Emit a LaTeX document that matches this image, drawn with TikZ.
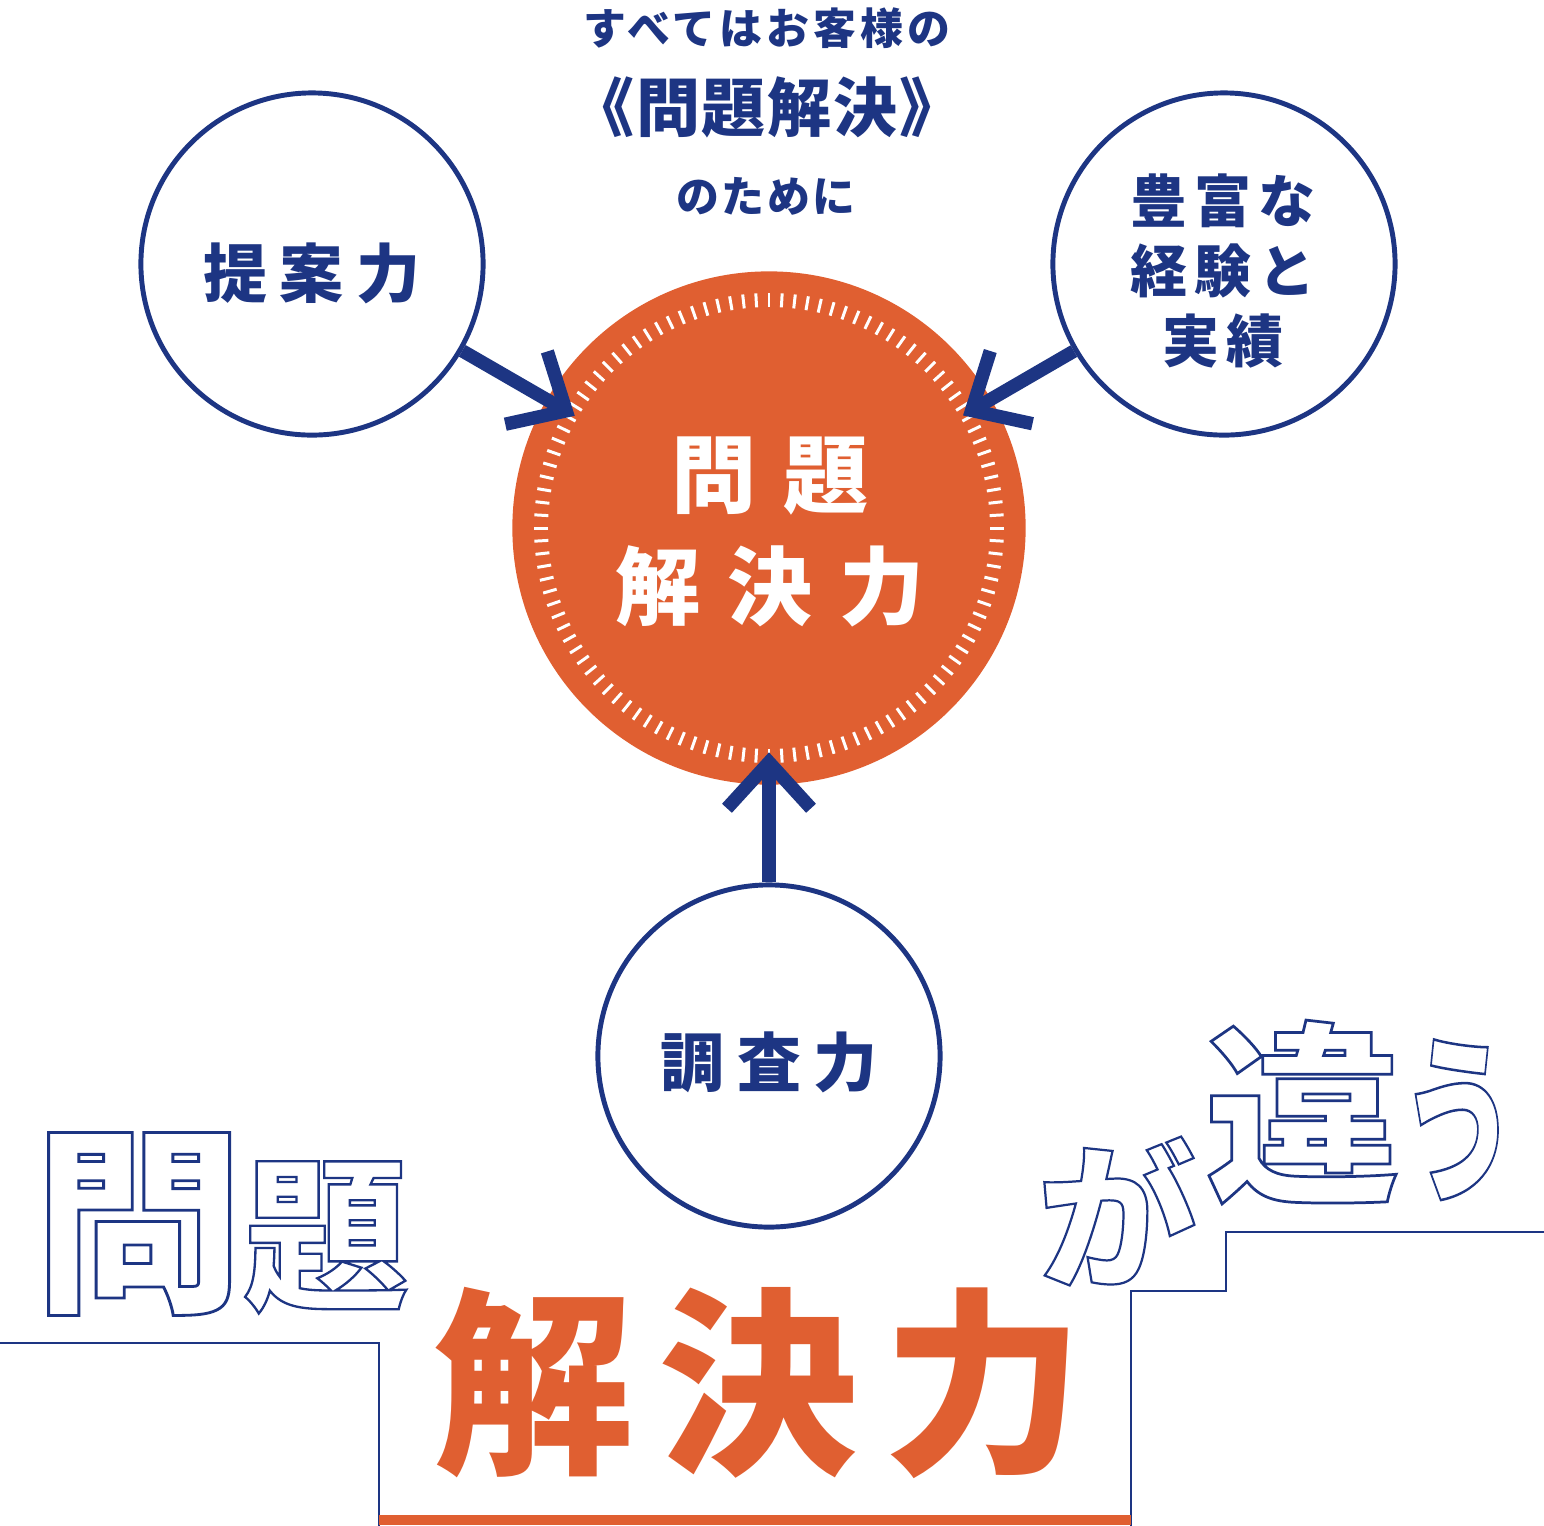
\documentclass[tikz,border=0pt]{standalone}
\usepackage{fontspec}
\setmainfont{Noto Sans CJK JP}
\usetikzlibrary{arrows.meta}
\definecolor{navy}{RGB}{29,53,131}
\definecolor{rust}{RGB}{224,95,49}
% size, baselineskip, letter space
\newcommand{\jfont}[3]{\fontsize{#1}{#2}\selectfont\bfseries\addfontfeature{LetterSpace=#3}}
% outlined glyphs: white fill, navy stroke
\newcommand{\hollowfont}[1]{\fontsize{#1}{#1}\selectfont\bfseries\addfontfeature{FakeBold=1.4}}
\newcommand{\outlined}[1]{\special{pdf:literal direct 0.114 0.208 0.514 RG}#1}
\tikzset{
  bubble/.style={circle, draw=navy, line width=1.4pt, fill=white, minimum size=3.42cm, inner sep=0pt},
  feed/.style={draw=navy, line width=3.8pt, -{Straight Barb[sharp, length=0.46cm, width=0.84cm]}, shorten >=-0.33cm},
  tick/.style={white, line width=0.85pt},
  lbl/.style={text=navy, inner sep=0pt},
  hollow/.style={text=white, inner sep=0pt},
}

\begin{document}
\begin{tikzpicture}[x=0.01cm, y=-0.01cm]
    \useasboundingbox (0,0) rectangle (1544,1526);

    % Central dial
    \node[circle, fill=rust, minimum size=5.13cm, inner sep=0pt] (core) at (769,528) {};
    \foreach \a in {0,...,111} {
        \draw[tick] (core.center) ++(\a*3.2142857:221) -- ++(\a*3.2142857:14);
    }
    \node[text=white, inner sep=0pt, align=center, font=\jfont{24.2pt}{31.9pt}{32}] (corelbl) at (770,532) {問題\\解決力};

    % Three strengths
    \node[bubble] (teian) at (312,264) {};
    \node[bubble] (keiken) at (1224,264) {};
    \node[bubble] (chosa) at (769,1056) {};
    \node[lbl, font=\jfont{18.2pt}{18.2pt}{20}] (teianlbl) at (312,273) {提案力};
    \node[lbl, align=center, font=\jfont{16.2pt}{19.9pt}{12}] (keikenlbl) at (1223,271) {豊富な\\経験と\\実績};
    \node[lbl, font=\jfont{18.2pt}{18.2pt}{20}] (chosalbl) at (769,1062) {調査力};

    \draw[feed] (teian) -- (core);
    \draw[feed] (keiken) -- (core);
    \draw[feed] (chosa) -- (core);

    % Heading
    \node[lbl, font=\jfont{12.2pt}{12.2pt}{10}] (head1) at (767,28) {すべてはお客様の};
    \node[lbl, font=\jfont{18.2pt}{18.2pt}{3}] (head2) at (767,107) {《問題解決》};
    \node[lbl, font=\jfont{12.2pt}{12.2pt}{6}] (head3) at (766,196) {のために};

    % Steps
    \draw[navy, line width=0.6pt] (0,1343) -- (379,1343) -- (379,1526)
        (1131,1526) -- (1131,1291) -- (1226,1291) -- (1226,1232) -- (1544,1232);
    \fill[rust] (379,1515) rectangle (1131,1525);

    % Slogan
    \node[hollow, font=\hollowfont{56.9pt}] (mondai) at (221,1224)
        {\scalebox{1.05}[1]{\outlined{問}}\hollowfont{47pt}\outlined{題}};
    \node[text=rust, inner sep=0pt, font=\jfont{56.9pt}{56.9pt}{12.5}] (big) at (759,1383) {解決力};
    \node[hollow, font=\hollowfont{45pt}] (ga) at (1117,1211) {\outlined{が}};
    \node[hollow, font=\hollowfont{55.5pt}] (chigau) at (1361,1112)
        {\outlined{違}\hollowfont{51.2pt}\scalebox{0.65}[1]{\outlined{う}}};
\end{tikzpicture}
\end{document}
